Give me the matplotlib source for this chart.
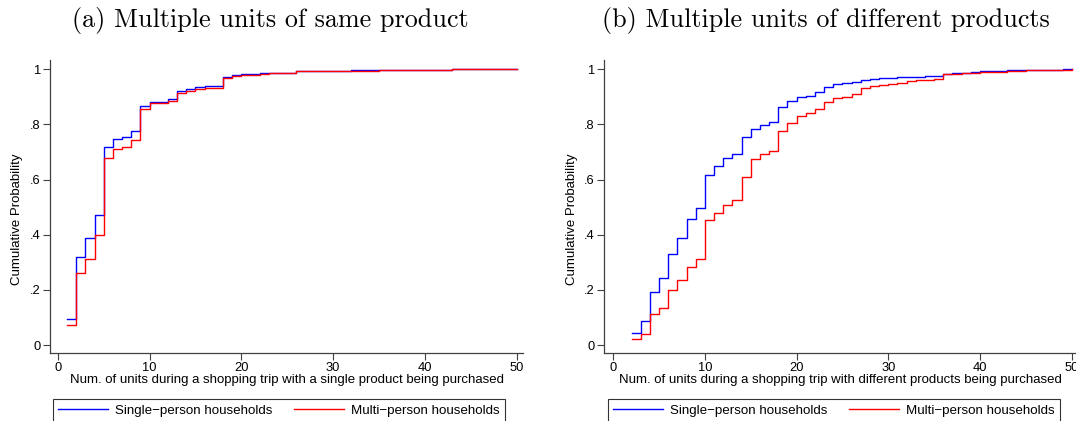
import matplotlib
matplotlib.use("Agg")
import matplotlib.pyplot as plt
import numpy as np

# ---------------- data ----------------
units_a = list(range(1, 51))
single_a = [0.093, 0.320, 0.388, 0.470, 0.718, 0.746, 0.756, 0.777, 0.868, 0.881,
            0.883, 0.891, 0.921, 0.927, 0.935, 0.938, 0.938, 0.973, 0.979, 0.982,
            0.983, 0.988, 0.988, 0.988, 0.988, 0.994, 0.994, 0.994, 0.995, 0.995,
            0.995, 0.996, 0.996, 0.996, 0.998, 0.998, 0.998, 0.998, 0.998, 0.999,
            0.999, 0.999, 1.000, 1.000, 1.000, 1.000, 1.000, 1.000, 1.000, 1.000]
multi_a = [0.071, 0.262, 0.312, 0.398, 0.679, 0.711, 0.717, 0.744, 0.858, 0.877,
           0.878, 0.884, 0.915, 0.922, 0.929, 0.931, 0.931, 0.968, 0.976, 0.979,
           0.980, 0.985, 0.986, 0.987, 0.987, 0.993, 0.993, 0.993, 0.994, 0.994,
           0.995, 0.995, 0.995, 0.995, 0.998, 0.998, 0.998, 0.998, 0.998, 0.999,
           0.999, 0.999, 1.000, 1.000, 1.000, 1.000, 1.000, 1.000, 1.000, 1.000]

units_b = list(range(2, 51))
single_b = [0.045, 0.087, 0.193, 0.243, 0.331, 0.390, 0.458, 0.497, 0.615, 0.649,
            0.677, 0.692, 0.753, 0.783, 0.797, 0.810, 0.863, 0.885, 0.900, 0.904,
            0.918, 0.936, 0.947, 0.950, 0.955, 0.961, 0.965, 0.967, 0.970, 0.971,
            0.973, 0.974, 0.975, 0.977, 0.985, 0.987, 0.988, 0.990, 0.993, 0.994,
            0.995, 0.996, 0.998, 0.998, 0.999, 0.999, 0.999, 1.000, 1.000]
multi_b = [0.023, 0.041, 0.112, 0.133, 0.200, 0.236, 0.284, 0.313, 0.455, 0.480,
           0.509, 0.526, 0.611, 0.675, 0.693, 0.705, 0.775, 0.806, 0.832, 0.841,
           0.856, 0.881, 0.895, 0.901, 0.909, 0.931, 0.938, 0.943, 0.948, 0.952,
           0.957, 0.960, 0.962, 0.965, 0.982, 0.985, 0.986, 0.987, 0.990, 0.991,
           0.992, 0.993, 0.995, 0.996, 0.996, 0.997, 0.998, 0.999, 1.000]

yticks = [0, 0.2, 0.4, 0.6, 0.8, 1.0]
yticklabels = ["0", ".2", ".4", ".6", ".8", "1"]
xticks = [0, 10, 20, 30, 40, 50]
series_labels = ["Single\u2212person households", "Multi\u2212person households"]
xlabels = ["Num. of units during a shopping trip with a single product being purchased",
           "Num. of units during a shopping trip with different products being purchased"]
titles = ["(a) Multiple units of same product", "(b) Multiple units of different products"]

# ---------------- figure ----------------
W, H = 1076, 421
fig = plt.figure(figsize=(W / 100, H / 100), dpi=100)
plt.rcParams['font.family'] = ['Liberation Sans', 'DejaVu Sans']

FS_TICK = 9.3
FS_LAB = 9.5
FS_LEG = 9.6
spine_col = "#404040"

def px_axes(l, r, t, b):
    return [l / W, 1 - b / H, (r - l) / W, (b - t) / H]

ax_a = fig.add_axes(px_axes(50, 523, 60, 353))
ax_b = fig.add_axes(px_axes(604, 1076, 60, 353))

panels = [
    (ax_a, units_a, single_a, multi_a, (-0.85, 50.7), 0, 52.5),
    (ax_b, units_b, single_b, multi_b, (-1.0, 50.47), 1, 607.5),
]

for ax, xs, s, m, xl, i, leg_left in panels:
    l1, = ax.plot(xs, s, drawstyle="steps-post", color="#0000ff", lw=1.0)
    l2, = ax.plot(xs, m, drawstyle="steps-post", color="#ff0000", lw=1.0)
    ax.set_xlim(*xl)
    ax.set_ylim(-0.029, 1.034)
    ax.set_xticks(xticks)
    ax.set_xticklabels([str(t) for t in xticks], fontsize=FS_TICK)
    ax.set_yticks(yticks)
    ax.set_yticklabels(yticklabels, fontsize=FS_TICK)
    for sp in ["top", "right"]:
        ax.spines[sp].set_visible(False)
    for sp in ["left", "bottom"]:
        ax.spines[sp].set_color(spine_col)
        ax.spines[sp].set_linewidth(0.9)
    ax.tick_params(axis="both", direction="out", length=5, width=0.8,
                   color=spine_col, pad=1.5)
    ax.set_xlabel(xlabels[i], fontsize=FS_LAB, labelpad=0.0)
    ax.set_ylabel("Cumulative Probability", fontsize=FS_LAB)
    ax.patch.set_alpha(0)
    fig.text((71.7 if i == 0 else 601.7) / W, 1 - 27.5 / H, titles[i],
             family="cmr10", fontsize=18.8, ha="left", va="baseline")
    leg = ax.legend([l1, l2], series_labels, ncol=2, loc="upper left",
                    bbox_to_anchor=(leg_left / W, 1 - 399 / H),
                    bbox_transform=fig.transFigure, fontsize=FS_LEG,
                    frameon=True, fancybox=False, shadow=False,
                    handlelength=3.75, handletextpad=0.53, columnspacing=1.6,
                    borderpad=0.43, borderaxespad=0)
    leg.get_frame().set_edgecolor("black")
    leg.get_frame().set_linewidth(0.8)

ax_a.yaxis.set_label_coords(-27 / 473, 0.455)
ax_b.yaxis.set_label_coords(-26 / 472, 0.455)

fig.savefig("out.png", dpi=100)
